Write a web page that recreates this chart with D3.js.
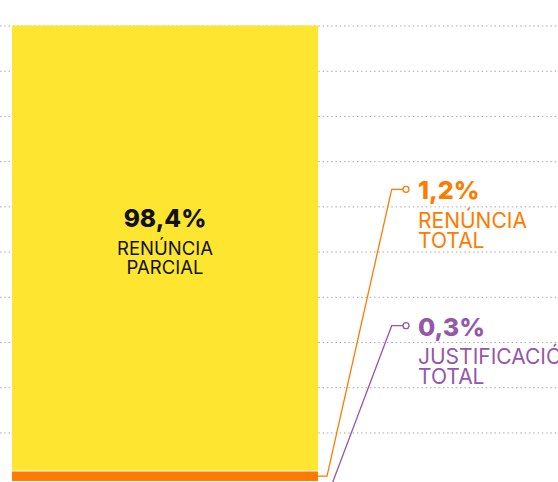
<!DOCTYPE html>
<html>
<head>
<meta charset="utf-8">
<script src="https://cdn.jsdelivr.net/npm/d3@7"></script>
<style>
  html, body { margin: 0; padding: 0; background: #fff; }
  svg { display: block; font-family: Inter, "Open Sans", sans-serif; }
</style>
</head>
<body>
<svg id="chart" width="558" height="482"></svg>
<script>
// ---- data ----
const categories = ["Renúncia parcial", "Renúncia total", "Justificació total"];
const values = [98.4, 1.2, 0.3];
const valueLabels = ["98,4%", "1,2%", "0,3%"];
const nameLines = [["RENÚNCIA", "PARCIAL"], ["RENÚNCIA", "TOTAL"], ["JUSTIFICACIÓ", "TOTAL"]];
const gridTicks = [10, 20, 30, 40, 50, 60, 70, 80, 90, 100];
const colors = ["#FDE530", "#FF7B00", "#9457AA"];

const W = 558, H = 482;
const svg = d3.select("#chart");

const y = d3.scaleLinear().domain([0, 100]).range([477.7, 25.5]);
const x = d3.scaleBand().domain(["total"]).range([12, 318]).padding(0);

// gridlines
const yAxis = d3.axisLeft(y).tickValues(gridTicks).tickSize(-W).tickFormat("");
const g = svg.append("g").call(yAxis);
g.select(".domain").remove();
g.selectAll(".tick line")
  .attr("stroke", "#a8a8a8")
  .attr("stroke-width", 1)
  .attr("stroke-dasharray", "1.5,2.8");

// stacked bar from top, min visible height for thin parts
const minH = 9.5, gap = 1;
let cursor = y(100);
const segs = values.map((v, i) => {
  const h = Math.max(y(0) - y(v), minH);
  const s = { i, top: cursor, h };
  cursor += h + gap;
  return s;
});

svg.selectAll("rect.seg").data(segs).enter().append("rect")
  .attr("class", "seg")
  .attr("x", x("total"))
  .attr("width", x.bandwidth())
  .attr("y", d => d.top)
  .attr("height", d => d.h)
  .attr("fill", d => colors[d.i]);

// label inside the big segment
const cx = x("total") + x.bandwidth() / 2;
const inner = svg.append("text").attr("text-anchor", "middle").attr("fill", "#111");
inner.append("tspan").attr("x", cx).attr("y", 226.5)
  .attr("font-weight", 800).attr("font-size", 24.5).text(valueLabels[0]);
nameLines[0].forEach((t, k) => {
  inner.append("tspan").attr("x", cx).attr("y", 255 + k * 19)
    .attr("font-size", 18.5).text(t);
});

// external labels with leader lines
const barRight = x("total") + x.bandwidth();
const labelPos = [null, { ty: 189.3, elbowX: 327 }, { ty: 325.7, elbowX: 331 }];
[1, 2].forEach(i => {
  const s = segs[i];
  const my = s.top + s.h / 2;
  const p = labelPos[i];
  const col = colors[i];
  svg.append("path")
    .attr("d", `M${barRight},${my}H${p.elbowX}L391.7,${p.ty}H403`)
    .attr("fill", "none").attr("stroke", col).attr("stroke-width", 1.3);
  svg.append("circle").attr("cx", 406).attr("cy", p.ty).attr("r", 3)
    .attr("fill", "#fff").attr("stroke", col).attr("stroke-width", 1.3);
  const t = svg.append("text").attr("fill", col);
  t.append("tspan").attr("x", 418).attr("y", p.ty + 10)
    .attr("font-weight", 800).attr("font-size", 25).text(valueLabels[i]);
  nameLines[i].forEach((line, k) => {
    t.append("tspan").attr("x", 418).attr("y", p.ty + 38.5 + k * 20.2)
      .attr("font-size", 21).text(line);
  });
});
</script>
</body>
</html>
